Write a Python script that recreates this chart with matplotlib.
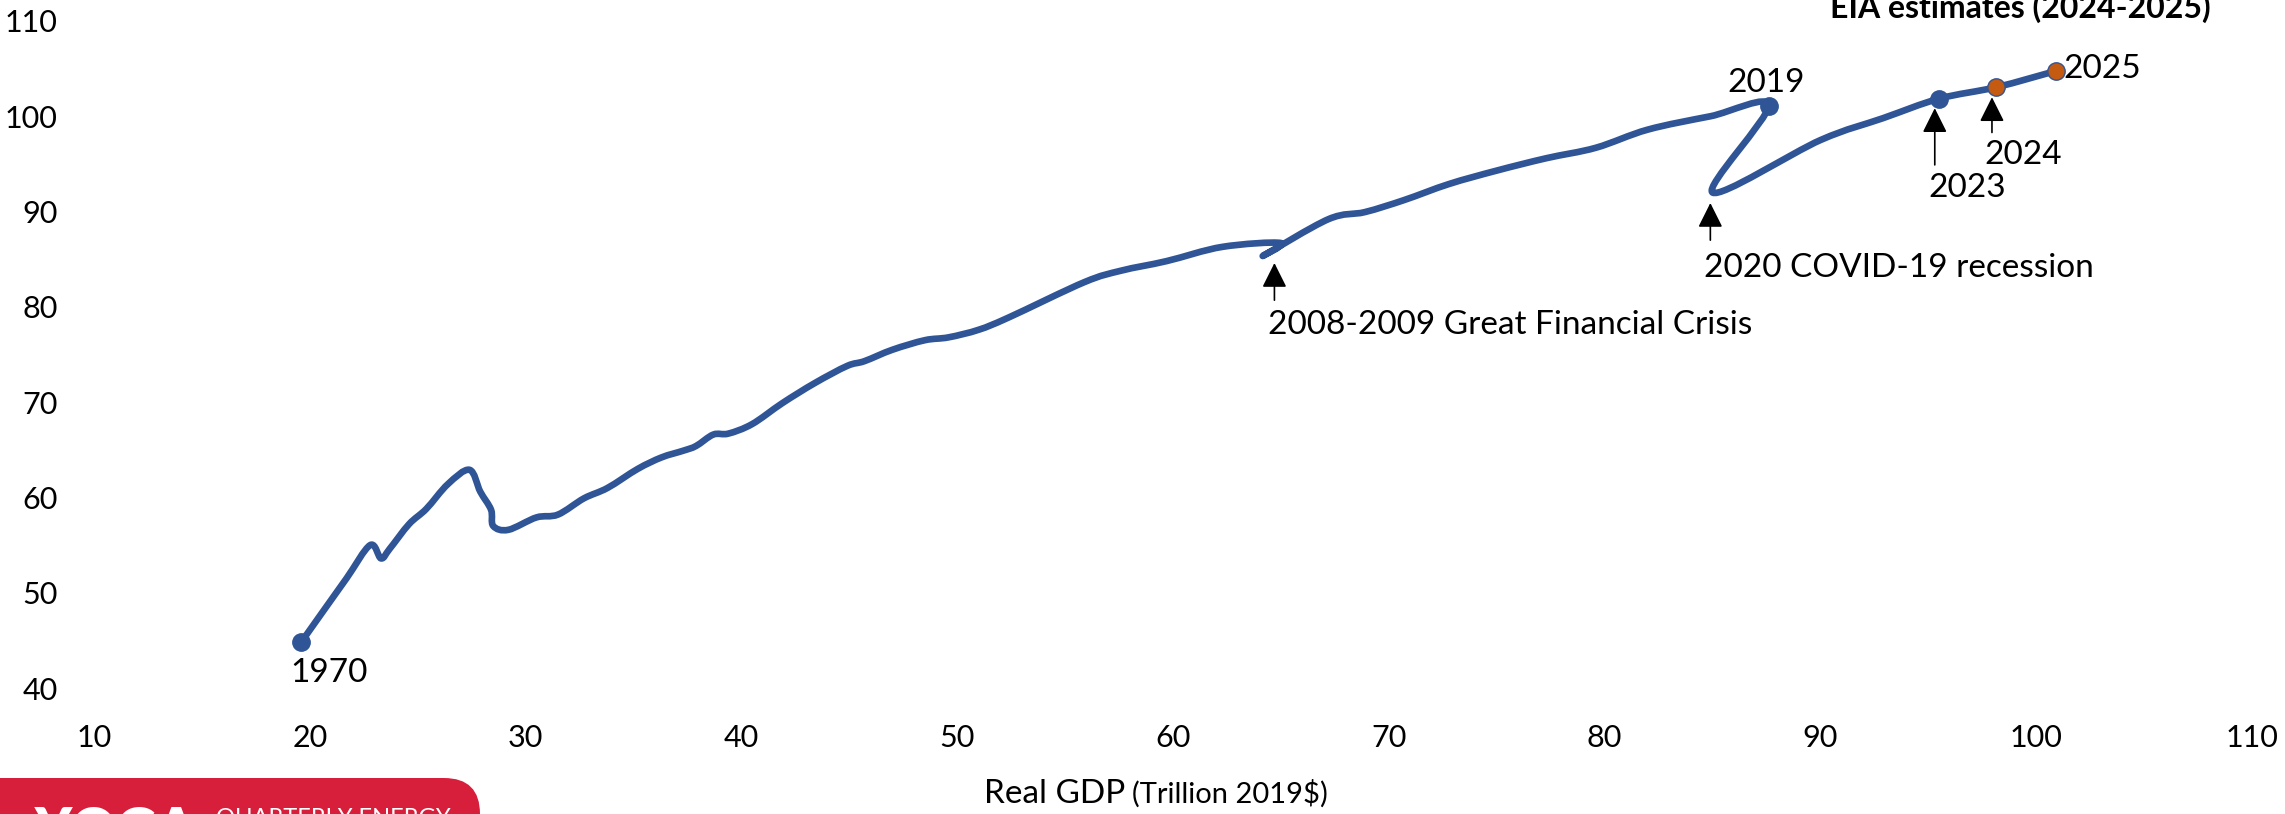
import matplotlib
matplotlib.use("Agg")
import matplotlib.pyplot as plt
import numpy as np
from matplotlib.path import Path
from matplotlib.patches import PathPatch, FancyBboxPatch

plt.rcParams['font.family'] = ['Lato', 'DejaVu Sans']

# world real GDP (trillion 2019$) vs oil demand, 1970-2025
years = list(range(1970, 2026))
gdp = [19.6, 20.6, 21.7, 22.8, 23.3, 23.7, 24.6, 25.4, 26.4, 27.4,
       27.9, 28.4, 28.5, 29.2, 30.5, 31.5, 32.7, 33.8, 35.2, 36.3,
       37.3, 37.9, 38.7, 39.4, 40.5, 41.9, 43.4, 44.9, 45.7, 47.0,
       48.5, 49.6, 51.0, 52.4, 55.9, 57.6, 59.7, 62.3, 65.0, 64.2,
       67.2, 68.9, 70.7, 72.8, 75.0, 77.3, 79.6, 82.0, 84.9, 87.6,
       85.0, 90.0, 92.9, 95.5, 98.15, 100.9]
oil = [44.8, 48.0, 51.5, 55.0, 53.6, 54.6, 57.2, 58.8, 61.4, 62.9,
       60.6, 58.7, 57.0, 56.6, 57.9, 58.2, 59.9, 61.0, 63.0, 64.2,
       64.9, 65.4, 66.6, 66.7, 67.7, 69.9, 72.0, 73.8, 74.3, 75.5,
       76.5, 76.8, 77.6, 78.9, 82.6, 83.8, 84.8, 86.3, 86.7, 85.4,
       89.2, 89.95, 91.2, 92.9, 94.3, 95.6, 96.7, 98.6, 100.0, 101.1,
       92.0, 97.5, 99.8, 101.85, 103.05, 104.75]

blue_years = [1970, 2019, 2023]
orange_years = [2024, 2025]

x_ticks = [10, 20, 30, 40, 50, 60, 70, 80, 90, 100, 110]
y_ticks = [40, 50, 60, 70, 80, 90, 100, 110]

line_blue = '#2F5597'
marker_orange = '#C55A11'

W, H = 2285, 814
fig = plt.figure(figsize=(W / 100, H / 100), dpi=100)
ax = fig.add_axes([94 / W, 126 / H, 2158 / W, 667 / H])
ax.set_xlim(10, 110)
ax.set_ylim(40, 110)
ax.set_xticks(x_ticks)
ax.set_yticks(y_ticks)
ax.tick_params(length=0, pad=26, labelsize=22)
for s in ax.spines.values():
    s.set_visible(False)

# smoothed line like Excel (catmull-rom as cubic bezier)
pts = np.column_stack([gdp, oil])
P = np.vstack([pts[0], pts, pts[-1]])
verts = [pts[0]]
codes = [Path.MOVETO]
for i in range(1, len(P) - 2):
    p0, p1, p2, p3 = P[i - 1], P[i], P[i + 1], P[i + 2]
    verts += [p1 + (p2 - p0) / 6, p2 - (p3 - p1) / 6, p2]
    codes += [Path.CURVE4] * 3
ax.add_patch(PathPatch(Path(verts, codes), fill=False, edgecolor=line_blue,
                       lw=4.8, capstyle='round', joinstyle='round', zorder=2))

bi = [years.index(y) for y in blue_years]
oi = [years.index(y) for y in orange_years]
ax.plot([gdp[i] for i in bi], [oil[i] for i in bi], 'o', ms=12.5,
        color=line_blue, zorder=3)
ax.plot([gdp[i] for i in oi], [oil[i] for i in oi], 'o', ms=12.5,
        color=marker_orange, mec=line_blue, mew=1.0, zorder=3)

# labels
fs = 24
ax.text(20.9, 41.6, '1970', fontsize=fs, ha='center', va='center')
ax.text(87.5, 103.5, '2019', fontsize=fs, ha='center', va='center')
ax.text(101.25, 104.95, '2025', fontsize=fs, ha='left', va='center')
ax.text(96.8, 92.45, '2023', fontsize=fs, ha='center', va='center')
ax.text(99.4, 95.9, '2024', fontsize=fs, ha='center', va='center')
ax.text(64.4, 78.1, '2008-2009 Great Financial Crisis', fontsize=fs,
        ha='left', va='center')
ax.text(84.6, 84.07, '2020 COVID-19 recession', fontsize=fs,
        ha='left', va='center')

arrows = [((64.7, 80.7), (64.7, 84.6)),
          ((84.9, 87.0), (84.9, 90.9)),
          ((95.3, 94.9), (95.3, 100.85)),
          ((97.95, 98.3), (97.95, 102.0))]
for tail, tip in arrows:
    ax.annotate('', xy=tip, xytext=tail,
                arrowprops=dict(arrowstyle='-|>,head_length=0.4,head_width=0.2',
                                color='black', lw=1.2, mutation_scale=38,
                                shrinkA=0, shrinkB=0))

fig.text(2020 / W, 1 - 18 / H, 'EIA estimates (2024-2025)', fontsize=23,
         weight='bold', ha='center', va='baseline')

# x axis title in two sizes, second part placed right after the first
t1 = fig.text(984 / W, 1 - 803 / H, 'Real GDP', fontsize=24, ha='left',
              va='baseline')
fig.canvas.draw()
bb = t1.get_window_extent()
fig.text((bb.x1 + 7) / W, 1 - 803 / H, '(Trillion 2019$)', fontsize=21,
         ha='left', va='baseline')

# cut-off logo at the bottom left
lax = fig.add_axes([0, 0, 1, 1], zorder=-1)
lax.set_xlim(0, W)
lax.set_ylim(H, 0)
lax.axis('off')
lax.add_patch(FancyBboxPatch((-60, 778), 540, 120,
                             boxstyle='round,pad=0,rounding_size=36',
                             fc='#D71F3C', ec='none'))
lax.text(35, 806, 'YOGA', color='white', fontsize=40, weight='heavy',
         ha='left', va='top')
lax.text(216, 807, 'QUARTERLY ENERGY', color='white', fontsize=17,
         ha='left', va='top')

fig.savefig('out.png', dpi=100)
